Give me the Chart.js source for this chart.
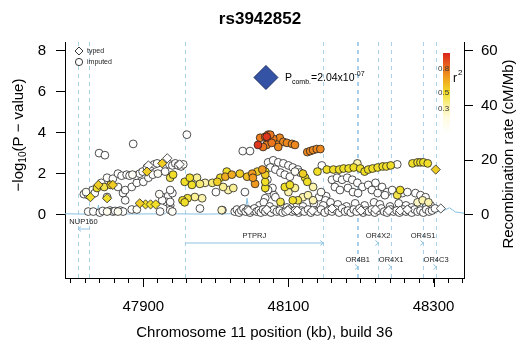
<!DOCTYPE html>
<html lang="en">
<head>
<meta charset="UTF-8" />
<title>rs3942852 regional association</title>
<style>
  body { margin: 0; background: #fff; }
  #wrap { width: 520px; height: 349px; }
</style>
</head>
<body>
<div id="wrap"><canvas id="locus" width="520" height="349"></canvas></div>
<script src="https://cdn.jsdelivr.net/npm/chart.js"></script>
<script>
  // --- data: [position kb, -log10 p, r2] ---
  const leadSnp = [48069, 6.69];
  const leadLabel = '2.04x10';
  const leadExp = '-07';

  const typedSnps = [
    [47827,.85,.5],[47838,1.45,.55],[47858,1.45,.55],[47850,.8,.5],[47905,2.1,.55],[47926,2.5,.55],
    [47933,2.75,0],[47907,2.4,0],[47950,2.45,0],[47895,.55,.55],[47903,.5,.5],[47910,.5,.5],[47917,.5,.5],
    [48303,2.2,.55],[48310,.3,0],[48045,.2,0],[48070,.25,0],[48099,.2,0],[48112,.2,0],[48133,.2,0],
    [48160,.3,0],[48200,.2,0],[48220,.25,0],[48238,.2,0],[48254,.2,0],[48264,.25,0]
  ];

  const imputedSnps = [
    // left, near zero
    [47824,.15,0],[47831,.15,0],[47840,.1,0],[47844,.18,0],[47850,.15,.1],[47854,.2,0],[47858,.15,0],
    [47861,.18,0],[47865,.15,.1],[47868,.2,0],[47872,.15,0],[47884,.25,0],[47891,.25,.05],[47923,.15,0],
    [47940,.15,.05],[47978,.3,0],[48008,.22,.25],
    // isolated high
    [47839,3.0,0],[47847,2.9,0],[47886,3.45,0],[47960,3.9,0],
    // left rising band, lower edge
    [47818,1.0,0],[47821,1.1,.05],[47824,.95,0],[47830,1.2,0],[47833,1.05,0],[47836,1.3,.5],[47846,1.35,.45],
    [47850,.86,0],[47855,1.45,.55],[47865,1.35,0],[47872,1.05,0],[47875,1.2,0],[47875,.7,0],[47884,1.35,0],
    [47891,1.55,0],[47900,1.6,0],[47907,1.8,0],[47913,1.95,0],[47920,2.0,.05],[47930,2.1,0],
    // left rising band, upper edge
    [47842,1.55,0],[47850,1.8,0],[47858,1.75,0],[47865,2.0,0],[47870,1.9,0],[47877,1.95,0],[47881,1.9,0],
    [47885,1.95,.05],[47890,1.9,0],[47895,2.0,0],[47899,2.1,0],[47905,2.3,0],[47910,2.35,0],[47915,2.45,0],
    [47919,2.5,0],[47936,2.45,0],[47940,2.4,0],[47944,2.5,0],[47948,2.4,0],[47952,2.35,0],[47955,2.45,.05],
    [47941,1.95,.5],[47937,1.8,.45],
    // left, low scatter
    [47927,.85,0],[47934,.9,0],[47940,1.05,0],[47932,.62,0],[47937,.45,0],[47926,.7,0],[47937,1.2,0],
    [47937,.62,0],[47937,.22,0],[47922,1.0,.05],
    [47954,.7,.5],[47961,.8,.48],[47971,.86,.35],[47981,.8,.3],[47957,.6,.5],
    // yellow group 47955-48025
    [47957,1.6,.5],[47964,1.8,.5],[47974,1.8,.35],[47985,1.55,.3],[47995,1.55,.4],[48002,1.6,.55],
    [48006,1.8,.5],[48013,1.85,.65],[48015,2.1,.5],[48022,1.95,.65],[48010,1.35,.35],[48017,1.2,.3],
    [48024,1.3,.35],[47967,1.45,.5],[47978,1.5,.4],
    [48000,1.1,0],[48009,.22,0],[48040,1.1,0],[48037,3.1,0],[48047,3.1,0],
    // yellow / orange 48030-48070
    [48033,2.0,.55],[48043,1.85,.6],[48050,2.0,.7],[48057,2.1,.55],[48064,2.2,.7],[48068,1.95,.55],
    [48054,1.5,.7],[48051,1.8,.7],[48068,1.3,.5],[48068,2.1,.5],[48068,1.6,.5],
    // high LD cluster
    [48058,3.4,.95],[48065,3.3,.8],[48061,3.75,.78],[48068,3.8,.8],[48072,3.9,.8],[48071,3.5,.78],
    [48070,3.8,.95],[48075,3.9,.8],[48079,3.7,.78],[48084,3.55,.75],[48088,3.75,.75],[48093,3.55,.75],
    [48098,3.5,.75],[48105,3.45,.75],[48109,3.4,.75],[48086,3.3,.75],[48070,3.4,.78],[48077,3.5,.8],
    [48126,3.05,.75],[48130,3.1,.75],[48134,3.15,.75],[48139,3.2,.75],[48144,3.2,.75],
    // white, 48070-48116
    [48072,2.55,0],[48079,2.65,0],[48086,2.55,0],[48093,2.5,0],[48100,2.4,0],[48106,2.3,0],[48113,2.2,0],
    [48075,2.3,0],[48082,2.2,0],[48089,2.05,0],[48095,1.95,0],[48102,1.85,0],[48109,2.1,.05],[48116,2.05,0],
    [48071,1.7,0],[48078,1.3,0],[48072,1.2,0],[48080,.95,0],
    // yellow, 48095-48130
    [48120,2.0,.55],[48123,1.8,.5],[48126,1.6,.5],[48095,1.35,.5],[48102,1.45,.5],[48109,1.3,.35],
    [48100,1.1,.3],[48106,.7,.5],[48113,.7,.45],[48120,.85,.3],[48127,.95,.3],[48134,1.35,.3],
    // yellow row 48140-48295
    [48140,2.1,.5],[48146,2.4,0],[48153,2.2,.5],[48162,2.2,.5],[48170,2.2,.5],[48176,2.25,.5],
    [48183,2.25,.5],[48190,2.3,.5],[48195,2.5,.3],[48199,2.25,.5],[48205,2.1,.5],[48210,2.2,.5],
    [48216,2.25,.5],[48223,2.3,.5],[48230,2.35,.5],[48235,2.35,.5],[48241,2.4,.5],[48250,2.45,.05],
    [48271,2.5,.5],[48278,2.55,.5],[48282,2.55,.5],[48286,2.55,.5],[48292,2.5,.5],
    // white, 48140-48295 mid
    [48160,1.7,0],[48167,1.8,0],[48174,1.7,0],[48181,1.8,0],[48188,1.7,0],[48195,1.55,0],[48202,1.35,0],
    [48164,1.35,0],[48171,1.2,0],[48182,1.3,0],[48189,1.1,0],[48196,1.05,0],[48210,1.45,0],[48220,1.55,0],
    [48229,1.35,0],[48236,1.1,0],[48243,1.2,0],[48250,.95,.45],[48257,1.05,0],[48264,1.1,0],[48275,1.05,0],
    [48282,.95,0],[48289,.85,0],[48215,1.2,0],[48223,1.05,0],[48233,.95,0],[48254,1.2,.5],[48285,.7,.3],
    [48293,.6,.3],[48278,.6,.25],[48145,1.1,.05],[48152,.9,0],
    // 0.4-0.9 band
    [48068,.8,0],[48082,.85,0],[48089,.62,.45],[48134,.7,.3],[48142,.85,0],[48151,.7,0],
    [48060,.45,0],[48066,.6,0],[48074,.4,0],[48090,.45,0],[48098,.35,0],[48112,.5,0],[48120,.4,0],
    [48135,.55,0],[48148,.45,0],[48158,.6,0],[48168,.5,0],[48180,.4,0],[48192,.55,0],[48205,.45,0],
    [48218,.6,0],[48226,.5,0],[48240,.4,0],[48252,.55,0],[48262,.45,0],[48270,.35,0],[48280,.5,0],[48296,.45,0],
    // near zero band
    [48026,.15,0],[48029,.25,0],[48032,.1,0],[48035,.2,0],[48038,.3,0],[48041,.15,0],[48044,.25,0],
    [48047,.1,0],[48050,.2,0],[48053,.3,0],[48056,.15,0],[48059,.2,0],[48062,.1,0],[48065,.25,0],
    [48068,.15,0],[48072,.2,0],[48076,.1,0],[48080,.25,0],[48084,.15,0],[48088,.2,0],[48092,.1,0],
    [48096,.15,0],[48101,.25,0],[48105,.15,0],[48109,.2,0],[48114,.1,0],[48118,.2,0],[48122,.15,0],
    [48127,.25,0],[48131,.1,0],[48136,.2,0],[48140,.15,0],[48145,.25,0],[48150,.1,0],[48155,.2,0],
    [48160,.15,0],[48165,.25,0],[48170,.1,0],[48174,.3,0],[48178,.15,0],[48182,.2,0],[48186,.1,0],
    [48190,.25,0],[48194,.15,0],[48198,.3,0],[48203,.1,0],[48207,.2,0],[48211,.15,0],[48215,.25,0],
    [48219,.1,0],[48224,.2,0],[48228,.3,0],[48232,.15,0],[48236,.1,0],[48241,.25,0],[48245,.15,0],
    [48249,.2,0],[48253,.1,0],[48258,.25,0],[48262,.15,0],[48266,.2,0],[48270,.1,0],[48274,.25,0],
    [48278,.15,0],[48282,.2,0],[48286,.1,0],[48290,.25,0],[48294,.15,0],[48298,.2,0],[48302,.3,0]
  ];

  const recombKb   = [47792, 47820, 47836, 47838, 47840, 47870, 47930, 47933, 47936, 47990, 48040, 48043, 48046, 48100, 48180, 48250, 48290, 48300, 48310, 48322, 48330, 48342];
  const recombRate = [0.3, 0.2, 0.3, 3.5, 0.3, 0.2, 0.3, 1.2, 0.3, 0.2, 0.4, 6, 0.4, 0.3, 0.2, 0.5, 0.8, 1.5, 1.0, 2.5, 1.0, 0.5];

  const geneNames  = ['NUP160', 'PTPRJ', 'OR4B1', 'OR4X2', 'OR4X1', 'OR4S1', 'OR4C3'];
  const geneStart  = [47810, 47958, 48195, 48223, 48241, 48285, 48303];
  const geneEnd    = [47825, 48148, 48196, 48224, 48242, 48286, 48304];
  const geneStrand = ['-', '+', '+', '+', '+', '+', '+'];
  const geneRow    = [0, 1, 2, 1, 2, 1, 2];

  const xTicks = [47800,47820,47840,47860,47880,47900,47920,47940,47960,47980,48000,48020,48040,48060,
                  48080,48100,48120,48140,48160,48180,48200,48220,48240,48260,48280,48300,48320,48340];
  const xTickLabels = [47900, 48100, 48300];
  const yTicks = [0, 2, 4, 6, 8];
  const y2Ticks = [0, 20, 40, 60];
  const r2Labels = [0.8, 0.5, 0.3];

  // r2 colour scale: white -> yellow -> orange -> red
  const r2Stops = [[0,[255,255,255]],[0.2,[255,251,222]],[0.35,[250,240,150]],[0.5,[240,222,40]],
                   [0.65,[240,172,32]],[0.8,[236,118,30]],[1,[218,34,28]]];
  function r2Color(r) {
    for (let i = 1; i < r2Stops.length; i++) {
      const [a, ca] = r2Stops[i - 1], [b, cb] = r2Stops[i];
      if (r <= b) {
        const t = (r - a) / (b - a);
        return 'rgb(' + ca.map((c, j) => Math.round(c + (cb[j] - c) * t)).join(',') + ')';
      }
    }
    return 'rgb(218,34,28)';
  }

  const toPoints = list => list.slice().sort((a, b) => a[2] - b[2]).map(p => ({ x: p[0], y: p[1], r2: p[2] }));

  const FONT = "'Liberation Sans', Arial, sans-serif";
  Chart.defaults.font.family = FONT;
  Chart.defaults.color = '#000';

  // draws rotated text (reading upwards) made of [text, size, shift] parts
  function upText(ctx, cx, cy, parts) {
    ctx.save();
    ctx.translate(cx, cy);
    ctx.rotate(-Math.PI / 2);
    ctx.textBaseline = 'middle';
    ctx.textAlign = 'left';
    let w = 0;
    parts.forEach(p => { ctx.font = p[1] + 'px ' + FONT; w += ctx.measureText(p[0]).width; });
    let x = -w / 2;
    parts.forEach(p => {
      ctx.font = p[1] + 'px ' + FONT;
      ctx.fillText(p[0], x, p[2]);
      x += ctx.measureText(p[0]).width;
    });
    ctx.restore();
  }

  // gene track, boundary lines, colour bar, legend, annotation
  const overlay = {
    id: 'overlay',
    beforeDatasetsDraw(chart) {
      const { ctx, chartArea: a, scales: { x } } = chart;
      ctx.save();
      ctx.strokeStyle = '#a8d0e8';
      ctx.lineWidth = 1;
      ctx.setLineDash([4, 4]);
      const seen = new Set();
      geneStart.forEach((s, i) => {
        [s, geneEnd[i]].forEach(v => {
          const px = Math.round(x.getPixelForValue(v)) + 0.5;
          if (seen.has(px)) return;
          seen.add(px);
          ctx.beginPath(); ctx.moveTo(px, a.top); ctx.lineTo(px, a.bottom); ctx.stroke();
        });
      });
      ctx.setLineDash([]);

      const rowY = [222, 236, 260];
      ctx.font = '7.5px ' + FONT;
      ctx.textAlign = 'center';
      ctx.textBaseline = 'middle';
      geneNames.forEach((g, i) => {
        const x1 = x.getPixelForValue(geneStart[i]), x2 = x.getPixelForValue(geneEnd[i]);
        const ly = rowY[geneRow[i]], gy = ly + 7;
        ctx.fillStyle = '#222';
        ctx.fillText(g, (x1 + x2) / 2, ly);
        ctx.strokeStyle = '#8fc3e2';
        ctx.beginPath(); ctx.moveTo(x1, gy); ctx.lineTo(x2, gy); ctx.stroke();
        ctx.beginPath();
        if (geneStrand[i] === '+') {
          ctx.moveTo(x2 - 3, gy - 2.5); ctx.lineTo(x2, gy); ctx.lineTo(x2 - 3, gy + 2.5);
        } else {
          ctx.moveTo(x1 + 3, gy - 2.5); ctx.lineTo(x1, gy); ctx.lineTo(x1 + 3, gy + 2.5);
        }
        ctx.stroke();
      });
      ctx.restore();
    },
    afterDraw(chart) {
      const { ctx, chartArea: a, scales: { x, y } } = chart;
      ctx.save();
      // longer ticks under labelled positions
      ctx.strokeStyle = '#000';
      ctx.lineWidth = 1;
      xTickLabels.forEach(v => {
        const px = Math.round(x.getPixelForValue(v)) + 0.5;
        ctx.beginPath(); ctx.moveTo(px, a.bottom); ctx.lineTo(px, a.bottom + 9); ctx.stroke();
      });

      // axis titles
      ctx.fillStyle = '#000';
      upText(ctx, 19, 135, [['\u2212log', 15, 0], ['10', 10, 4], ['(P \u2212 value)', 15, 0]]);
      upText(ctx, 509, 154, [['Recombination rate (cM/Mb)', 15, 0]]);

      // legend: typed / imputed
      ctx.fillStyle = '#fff';
      ctx.strokeStyle = '#222';
      ctx.lineWidth = 0.9;
      ctx.beginPath();
      ctx.moveTo(79, 47); ctx.lineTo(83, 51); ctx.lineTo(79, 55); ctx.lineTo(75, 51); ctx.closePath();
      ctx.fill(); ctx.stroke();
      ctx.beginPath(); ctx.arc(79, 62, 3.6, 0, Math.PI * 2); ctx.fill(); ctx.stroke();
      ctx.fillStyle = '#222';
      ctx.font = '7px ' + FONT;
      ctx.textAlign = 'left';
      ctx.textBaseline = 'middle';
      ctx.fillText('typed', 87, 51);
      ctx.fillText('imputed', 87, 62);

      // r2 colour bar
      const bx = 443, bTop = 53, bBot = 133;
      const grad = ctx.createLinearGradient(0, bBot, 0, bTop);
      r2Stops.forEach(s => grad.addColorStop(s[0], r2Color(s[0])));
      ctx.fillStyle = grad;
      ctx.fillRect(bx, bTop, 7, bBot - bTop);
      ctx.fillStyle = '#333';
      ctx.font = '8px ' + FONT;
      r2Labels.forEach(v => ctx.fillText(String(v), 438, bBot - v * (bBot - bTop)));
      ctx.fillStyle = '#000';
      ctx.font = '12px ' + FONT;
      ctx.fillText('r', 453, 79);
      ctx.font = '8px ' + FONT;
      ctx.fillText('2', 458, 73);

      // lead SNP annotation
      const lx = x.getPixelForValue(leadSnp[0]) + 19, ly = y.getPixelForValue(leadSnp[1]) + 4;
      ctx.textBaseline = 'alphabetic';
      let tx = lx;
      const seg = [['P', 10.5, 0], ['comb.', 7, 3], ['=' + leadLabel, 10.5, 0], [leadExp, 7, -5]];
      seg.forEach(s => {
        ctx.font = s[1] + 'px ' + FONT;
        ctx.fillText(s[0], tx, ly + s[2]);
        tx += ctx.measureText(s[0]).width;
      });
      ctx.restore();
    }
  };

  new Chart(document.getElementById('locus'), {
    type: 'scatter',
    data: {
      datasets: [
        {
          label: 'lead',
          data: [{ x: leadSnp[0], y: leadSnp[1] }],
          pointStyle: 'rectRot',
          pointRadius: 12,
          backgroundColor: '#3553a4',
          borderColor: '#1d2f66',
          borderWidth: 1,
          order: 0
        },
        {
          label: 'typed',
          data: toPoints(typedSnps),
          pointStyle: 'rectRot',
          pointRadius: 4.6,
          backgroundColor: c => r2Color(c.raw ? c.raw.r2 : 0),
          borderColor: '#222',
          borderWidth: 0.8,
          order: 1
        },
        {
          label: 'imputed',
          data: toPoints(imputedSnps),
          pointStyle: 'circle',
          pointRadius: 3.9,
          backgroundColor: c => r2Color(c.raw ? c.raw.r2 : 0),
          borderColor: '#222',
          borderWidth: 0.8,
          order: 2
        },
        {
          label: 'recombination',
          data: recombKb.map((k, i) => ({ x: k, y: recombRate[i] })),
          yAxisID: 'y2',
          showLine: true,
          borderColor: '#86c0e2',
          borderWidth: 1,
          pointRadius: 0,
          order: 3
        }
      ]
    },
    options: {
      responsive: false,
      animation: false,
      events: [],
      layout: { padding: 0 },
      plugins: {
        legend: { display: false },
        tooltip: { enabled: false },
        title: {
          display: true,
          text: 'rs3942852',
          font: { size: 17, weight: 'bold' },
          padding: { top: 9, bottom: 12.6 }
        }
      },
      scales: {
        x: {
          type: 'linear',
          min: 47792,
          max: 48342,
          afterBuildTicks: s => { s.ticks = xTicks.map(v => ({ value: v })); },
          ticks: {
            callback: v => xTickLabels.includes(v) ? String(v) : '',
            font: { size: 15 },
            padding: 15,
            maxRotation: 0,
            autoSkip: false
          },
          grid: { drawOnChartArea: false, tickLength: 5, color: '#000' },
          border: { color: '#000' },
          title: {
            display: true,
            text: 'Chromosome 11 position (kb), build 36',
            font: { size: 15 },
            padding: { top: 0, bottom: 7 }
          },
          afterFit: s => { s.height = 71; }
        },
        y: {
          position: 'left',
          min: -3.09,
          max: 8.42,
          afterBuildTicks: s => { s.ticks = yTicks.map(v => ({ value: v })); },
          ticks: { font: { size: 15 }, padding: 10 },
          grid: { drawOnChartArea: false, tickLength: 9, color: '#000' },
          border: { color: '#000' },
          afterFit: s => { s.width = 65; }
        },
        y2: {
          position: 'right',
          min: -23.2,
          max: 63.2,
          afterBuildTicks: s => { s.ticks = y2Ticks.map(v => ({ value: v })); },
          ticks: { font: { size: 15 }, padding: 8 },
          grid: { drawOnChartArea: false, tickLength: 9, color: '#000' },
          border: { color: '#000' },
          afterFit: s => { s.width = 56; }
        }
      }
    },
    plugins: [overlay]
  });
</script>
</body>
</html>
